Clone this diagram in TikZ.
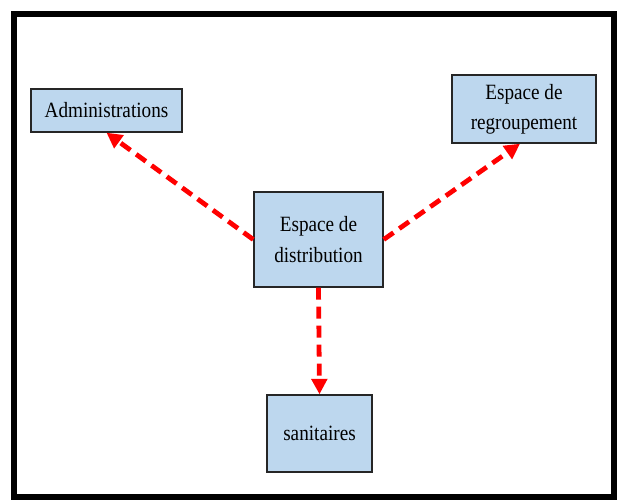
\documentclass[tikz,border=0pt]{standalone}
\usepackage{fontspec}
\setmainfont{Liberation Serif}[FakeStretch=0.88]
\usetikzlibrary{arrows.meta}
\definecolor{boxblue}{RGB}{189,215,238}

\begin{document}
\begin{tikzpicture}[x=0.025cm, y=-0.025cm,
     >={Triangle[width=11pt, length=11pt]},
     every node/.style = {draw=black!85, fill=boxblue, line width=1pt,
     inner sep=0pt, align=center,
     font=\fontsize{15.5}{21.5}\selectfont},
     link/.style = {->, red, line width=3.4pt, dash pattern=on 8.5pt off 5pt}]
    \useasboundingbox (0,0) rectangle (617,500);
    % outer frame
    \draw [line width=0.15cm] (14,14) rectangle (614,497);
        \node [minimum width=3.775cm, minimum height=1.075cm]
            at (106.5,110.5) (admin) {Administrations};
        \node [minimum width=3.6cm, minimum height=1.7cm]
            at (524,109) (regroup) {Espace de\\regroupement};
        \node [minimum width=3.225cm, minimum height=2.375cm]
            at (318.5,239.5) (distrib) {Espace de\\distribution};
        \node [minimum width=2.625cm, minimum height=1.925cm]
            at (319.5,433.5) (sanit) {sanitaires};
    % dashed links out of the distribution space
    \draw [link] (distrib.west) -- (admin.south);
    \draw [link] (distrib.east) -- ([xshift=-0.1cm]regroup.south);
    \draw [link] (distrib.south) -- (sanit.north);
\end{tikzpicture}
\end{document}
